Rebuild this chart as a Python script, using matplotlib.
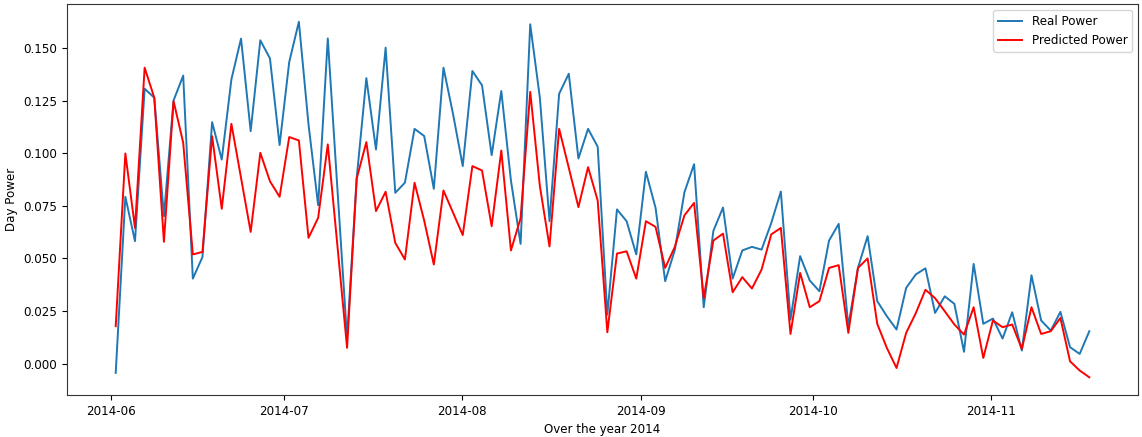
import matplotlib
matplotlib.use("Agg")
import matplotlib.pyplot as plt
import pandas as pd

# dates of the test samples (evenly spaced, ~1.68 days apart)
dates = pd.date_range("2014-06-01 18:00", "2014-11-18 01:00", periods=102)

real_power = [
    -0.0044, 0.0793, 0.0582, 0.1307, 0.1264, 0.0701, 0.1251, 0.1369, 0.0404, 0.0507,
    0.1148, 0.0970, 0.1351, 0.1545, 0.1105, 0.1537, 0.1451, 0.1039, 0.1434, 0.1625,
    0.1137, 0.0753, 0.1546, 0.0830, 0.0120, 0.0883, 0.1357, 0.1018, 0.1502, 0.0812,
    0.0860, 0.1116, 0.1082, 0.0831, 0.1407, 0.1185, 0.0939, 0.1391, 0.1323, 0.0991,
    0.1296, 0.0870, 0.0569, 0.1613, 0.1264, 0.0677, 0.1283, 0.1378, 0.0975, 0.1116,
    0.1031, 0.0233, 0.0733, 0.0677, 0.0519, 0.0912, 0.0741, 0.0392, 0.0540, 0.0815,
    0.0948, 0.0268, 0.0631, 0.0742, 0.0404, 0.0538, 0.0555, 0.0542, 0.0668, 0.0818,
    0.0209, 0.0511, 0.0395, 0.0344, 0.0585, 0.0664, 0.0178, 0.0455, 0.0606, 0.0297,
    0.0225, 0.0162, 0.0360, 0.0424, 0.0453, 0.0241, 0.0320, 0.0284, 0.0056, 0.0474,
    0.0189, 0.0214, 0.0119, 0.0244, 0.0062, 0.0420, 0.0205, 0.0157, 0.0246, 0.0078,
    0.0046, 0.0154,
]

predicted_power = [
    0.0178, 0.0999, 0.0645, 0.1407, 0.1264, 0.0579, 0.1248, 0.1050, 0.0519, 0.0531,
    0.1081, 0.0736, 0.1140, 0.0883, 0.0626, 0.1002, 0.0867, 0.0793, 0.1077, 0.1061,
    0.0598, 0.0693, 0.1042, 0.0560, 0.0075, 0.0880, 0.1053, 0.0725, 0.0817, 0.0574,
    0.0495, 0.0860, 0.0680, 0.0471, 0.0823, 0.0717, 0.0611, 0.0939, 0.0918, 0.0653,
    0.1013, 0.0538, 0.0691, 0.1292, 0.0844, 0.0557, 0.1116, 0.0931, 0.0744, 0.0934,
    0.0775, 0.0149, 0.0523, 0.0534, 0.0404, 0.0677, 0.0650, 0.0455, 0.0555, 0.0705,
    0.0764, 0.0311, 0.0585, 0.0618, 0.0339, 0.0411, 0.0357, 0.0447, 0.0614, 0.0645,
    0.0141, 0.0431, 0.0268, 0.0297, 0.0455, 0.0468, 0.0146, 0.0455, 0.0500, 0.0189,
    0.0074, -0.0021, 0.0146, 0.0240, 0.0351, 0.0311, 0.0249, 0.0186, 0.0138, 0.0268,
    0.0027, 0.0205, 0.0173, 0.0186, 0.0070, 0.0268, 0.0141, 0.0154, 0.0217, 0.0011,
    -0.0033, -0.0065,
]

plt.rcParams["font.size"] = 8.6

fig = plt.figure(figsize=(11.42, 4.37), dpi=100)
ax = fig.add_axes([0.0587, 0.096, 0.9378, 0.8948])

ax.plot(dates, real_power, label="Real Power", lw=1.4)
ax.plot(dates, predicted_power, color="red", label="Predicted Power", lw=1.4)

for s in ax.spines.values():
    s.set_color("#333333")

ax.set_xlabel("Over the year 2014")
ax.set_ylabel("Day Power")
ax.legend(loc="upper right")

fig.savefig("out.png", dpi=100)
